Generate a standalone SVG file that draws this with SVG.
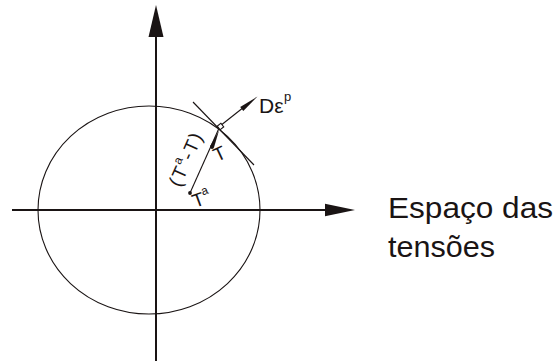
<svg xmlns="http://www.w3.org/2000/svg" width="560" height="361" viewBox="0 0 560 361">
<style>
.ax{stroke:#1a1414;stroke-width:2;fill:none}
.thin{stroke:#1a1414;stroke-width:1.1;fill:none}
.fill{fill:#1a1414;stroke:none}
.lbl{font-family:"Liberation Sans","DejaVu Sans",sans-serif;fill:#1a1414}
</style>
<rect width="560" height="361" fill="#ffffff"/>
<g id="axes">
<line class="ax" x1="156" y1="34" x2="156" y2="361"/>
<polygon class="fill" points="156,5 163.5,37 148.5,37"/>
<line class="ax" x1="12" y1="210" x2="328" y2="210"/>
<polygon class="fill" points="355,210 325,203.7 325,216.3"/>
</g>
<g id="yield-surface">
<ellipse class="thin" cx="149" cy="210" rx="111" ry="104" stroke-width="1.3"/>
</g>
<g id="tangent">
<line class="thin" x1="193" y1="102" x2="254" y2="165"/>
</g>
<g id="connectors">
<line class="thin" x1="190" y1="193" x2="220" y2="126"/>
<polygon class="fill" points="219,130.5 213.9,147.8 210.1,146.2"/>
<line class="thin" x1="220" y1="126" x2="244" y2="107"/>
<polygon class="fill" points="257.5,96.5 243.3,110.9 240.2,106.9"/>
<rect x="-2.3" y="-2.3" width="4.6" height="4.6" fill="#fff" stroke="#1a1414" stroke-width="1.1" transform="translate(220.5,126.5) rotate(-38)"/>
<circle class="fill" cx="190" cy="193" r="1.9"/>
<circle class="fill" cx="212" cy="147" r="1.9"/>
</g>
<g id="labels" class="lbl">
<text x="259" y="113" font-size="21">Dε</text>
<text x="284" y="101" font-size="13">p</text>
<text transform="translate(217,162) rotate(-25)" font-size="19">T</text>
<text transform="translate(195,208) rotate(-20)" font-size="19">T<tspan font-size="12" dy="-9">a</tspan></text>
<text transform="translate(180,188) rotate(-66)" font-size="19" letter-spacing="1.5">(T<tspan font-size="12" dy="-9">a</tspan><tspan dy="9">-T)</tspan></text>
<text x="388" y="218" font-size="29" textLength="165" lengthAdjust="spacingAndGlyphs">Espaço das</text>
<text x="388" y="257" font-size="29" textLength="107" lengthAdjust="spacingAndGlyphs">tensões</text>
</g>
</svg>
